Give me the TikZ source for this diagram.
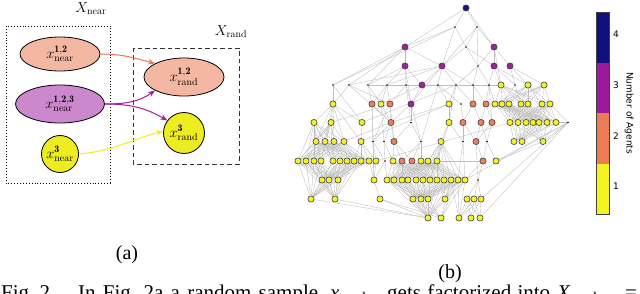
\documentclass[tikz,border=0pt]{standalone}
\usepackage{fontspec}
\newfontfamily\serifT{Liberation Serif}
\newfontfamily\sansD{DejaVu Sans}
\usetikzlibrary{shapes.geometric,arrows.meta,backgrounds}
\definecolor{gyellow}{HTML}{F2F224}
\definecolor{gorange}{HTML}{EE7F5E}
\definecolor{gmagenta}{HTML}{A0219E}
\definecolor{gblue}{HTML}{14148A}
\definecolor{cbblue}{HTML}{10107F}
\definecolor{cbmag}{HTML}{9B1A9B}
\definecolor{cborange}{HTML}{EF7B55}
\definecolor{cbyellow}{HTML}{F3F31F}
\definecolor{nearA}{HTML}{F4B8A2}
\definecolor{nearB}{HTML}{CC88CC}
\definecolor{nearC}{HTML}{ECEC20}
\definecolor{arrO}{HTML}{F07850}
\definecolor{arrP}{HTML}{A01EA0}
\definecolor{arrY}{HTML}{EEEE22}
\newcommand\gbip[4]{\foreach \ia in {#2}{\foreach \jb in {#4}{\draw[gedge] (r#1c\ia) -- (r#3c\jb);}}}
\begin{document}
\begin{tikzpicture}[x=1pt,y=-1pt,
  gnode/.style={circle,draw=black!72,line width=0.65pt,minimum size=6.2pt,inner sep=0pt},
  gY/.style={gnode,fill=gyellow},
  gO/.style={gnode,fill=gorange},
  gM/.style={gnode,fill=gmagenta},
  gB/.style={gnode,fill=gblue},
  gD/.style={circle,fill=black,minimum size=1.7pt,inner sep=0pt},
  gedge/.style={draw=black!26,line width=0.35pt},
  setnode/.style={draw=black,line width=0.8pt,inner sep=0pt,font=\fontsize{14.4}{16}\selectfont},
  setarrow/.style={line width=1pt,-{Stealth[length=7pt,width=5.5pt]}},
  serlab/.style={font=\serifT\fontsize{20}{22}\selectfont,inner sep=0pt},
  caplab/.style={font=\serifT\fontsize{21}{24}\selectfont,inner sep=0pt,anchor=base west},
  cblab/.style={font=\sansD\fontsize{9}{10}\selectfont,inner sep=0pt}
]
\useasboundingbox (0,0) rectangle (640,294);
\clip (0,0) rectangle (640,294);

% ---------- (a) ----------
\draw[dotted,line width=0.9pt] (6,26) rectangle (110,183);
\draw[dashed,dash pattern=on 4.5pt off 3pt,line width=0.9pt,black!80] (133,48) rectangle (239,164);
\node[font=\fontsize{14.4}{16}\selectfont] (lnear) at (91,9) {$X_{\mathrm{near}}$};
\node[font=\fontsize{14.4}{16}\selectfont] (lrand) at (231,32) {$X_{\mathrm{rand}}$};
\node[setnode,ellipse,fill=nearA,minimum width=80pt,minimum height=34pt] (near12) at (60,54) {$x^{\mathbf{1,2}}_{\mathrm{near}}$};
\node[setnode,ellipse,fill=nearB,minimum width=89pt,minimum height=38pt] (near123) at (60,104) {$x^{\mathbf{1,2,3}}_{\mathrm{near}}$};
\node[setnode,circle,fill=nearC,minimum size=37pt] (near3) at (60,154) {$x^{\mathbf{3}}_{\mathrm{near}}$};
\node[setnode,ellipse,fill=nearA,minimum width=80pt,minimum height=38pt] (rand12) at (184,77) {$x^{\mathbf{1,2}}_{\mathrm{rand}}$};
\node[setnode,circle,fill=nearC,minimum size=41pt] (rand3) at (184,133) {$x^{\mathbf{3}}_{\mathrm{rand}}$};
\draw[setarrow,arrO] (near12.east) to[out=0,in=165] (rand12.155);
\draw[setarrow,arrP] (near123.east) to[out=0,in=215] (rand12.205);
\draw[setarrow,arrP] (near123.east) to[out=0,in=150] (rand3.143);
\draw[setarrow,arrY] (near3.east) to[out=5,in=195] (rand3.175);
\node[serlab] (laba) at (127,255) {(a)};

% ---------- (b) graph nodes ----------
\node[gB] (r0c1) at (466,8) {};
\foreach \xx/\st [count=\i] in {455/gD,477/gD} \node[\st] (r1c\i) at (\xx,27) {};
\foreach \xx/\st [count=\i] in {405/gM,466/gD,494/gM} \node[\st] (r2c\i) at (\xx,47) {};
\foreach \xx/\st [count=\i] in {405/gM,442/gM,478/gD,494/gM,510/gM} \node[\st] (r3c\i) at (\xx,66) {};
\foreach \xx/\st [count=\i] in {333/gD,349/gD,368/gD,387/gD,406/gD,422/gM,438/gD,456/gD,473/gD,489/gD,501/gY,515/gD,528/gY,544/gY} \node[\st] (r4c\i) at (\xx,85) {};
\foreach \xx/\st [count=\i] in {333/gY,372/gO,381/gY,390/gO,411/gM,449/gY,461/gD,473/gO,486/gO,495/gY,502/gY,509/gY,521/gY,528/gY,542/gY,550/gY} \node[\st] (r5c\i) at (\xx,104) {};
\foreach \xx/\st [count=\i] in {314/gY,331/gY,362/gY,391/gO,411/gD,449/gY,463/gO,481/gO,492/gO,510/gY,518/gY,526/gY,533/gY,539/gY,547/gY,556/gY,568/gD} \node[\st] (r6c\i) at (\xx,122.5) {};
\foreach \xx/\st [count=\i] in {316/gY,325/gY,334/gY,344/gY,361/gY,373/gD,384/gD,394/gO,421/gD,441/gY,463/gD,476/gO,487/gD,514/gY,522/gY,543/gY} \node[\st] (r7c\i) at (\xx,141.5) {};
\foreach \xx/\st [count=\i] in {298/gY,306/gY,314/gY,321/gY,333/gY,340/gY,347/gY,354/gY,361/gY,369/gY,376/gY,385/gD,393/gY,402/gO,412/gO,421/gY,428/gY,437/gY,483/gO,496/gY} \node[\st] (r8c\i) at (\xx,161) {};
\foreach \xx/\st [count=\i] in {322/gY,329/gY,338/gY,374/gY,387/gY,394/gY,402/gY,408/gY,416/gY,423/gY,430/gY,437/gY,444/gY,451/gY,458/gY,465/gY,478/gD} \node[\st] (r9c\i) at (\xx,180) {};
\foreach \xx/\st [count=\i] in {311/gY,335/gY,380/gY,413/gY,421/gY,428/gY,445/gY,467/gY,474/gY,481/gY} \node[\st] (r10c\i) at (\xx,199) {};
\foreach \xx/\st [count=\i] in {428/gY,441/gY,459/gY,471/gY,480/gY} \node[\st] (r11c\i) at (\xx,218) {};

% ---------- (b) graph edges ----------
\begin{pgfonlayer}{background}
\foreach \a/\b in {r0c1/r1c1,r0c1/r1c2,r0c1/r2c3,r0c1/r2c1,
 r1c1/r2c1,r1c1/r2c2,r1c1/r3c2,r1c1/r4c1,
 r1c2/r2c2,r1c2/r2c3,r1c2/r3c3,r1c2/r3c2,
 r2c1/r3c1,r2c1/r4c1,r2c1/r4c2,r2c1/r4c3,r2c1/r3c2,
 r2c2/r3c2,r2c2/r3c3,r2c2/r3c4,
 r2c3/r3c4,r2c3/r3c5,r2c3/r3c3,r2c3/r4c11,
 r3c1/r4c3,r3c1/r4c4,r3c1/r4c5,r3c1/r5c5,r3c1/r4c6,
 r3c2/r4c6,r3c2/r4c7,r3c2/r4c8,r3c2/r4c4,r3c2/r5c5,r3c2/r4c9,r3c2/r4c2,
 r3c3/r4c8,r3c3/r4c9,r3c3/r4c10,
 r3c4/r4c10,r3c4/r4c11,r3c4/r4c12,r3c4/r4c13,
 r3c5/r4c12,r3c5/r4c13,r3c5/r4c14,
 r4c1/r5c1,r4c2/r5c1,r4c2/r5c4,r4c3/r5c2,r4c3/r5c3,r4c4/r5c2,r4c4/r5c3,r4c4/r5c4,r4c5/r5c4,r4c5/r5c5,r4c6/r5c5,r4c6/r5c3,
 r4c7/r5c6,r4c7/r5c7,r4c8/r5c6,r4c8/r5c8,r4c9/r5c8,r4c9/r5c9,r4c10/r5c9,r4c10/r5c10,r4c12/r5c13,r4c12/r5c11,
 r4c1/r6c3,r4c5/r6c5,r4c7/r7c9,r4c2/r6c4,r4c8/r6c6,r4c10/r6c9,r4c3/r4c11,
 r5c1/r6c1,r5c1/r6c2,r5c1/r6c3,r5c1/r7c5,r5c1/r7c1,r5c1/r7c2,r5c1/r7c3,r5c1/r7c4,
 r5c2/r6c4,r5c2/r7c6,r5c2/r9c4,r5c3/r6c4,r5c3/r7c7,r5c4/r6c4,r5c4/r7c8,r5c4/r7c6,
 r6c4/r7c6,r6c4/r7c7,r6c4/r7c8,
 r7c6/r8c11,r7c6/r8c12,r7c6/r9c4,r7c7/r8c12,r7c7/r8c13,r7c8/r8c13,r7c8/r8c14,r7c8/r8c15,
 r9c4/r10c3,r8c11/r9c4,r8c10/r9c4,r8c12/r9c5,r8c12/r9c4,
 r5c5/r6c5,r5c5/r6c4,r5c5/r7c9,r6c5/r7c9,r6c5/r7c8,r7c9/r8c15,r7c9/r8c16,r7c9/r8c14,
 r6c3/r7c5,r7c5/r8c8,r7c5/r8c9,r7c5/r8c10,r7c5/r8c11,
 r5c6/r6c6,r6c6/r7c10,r6c6/r7c11,r6c6/r8c18,r5c7/r6c7,r5c6/r6c4,
 r5c8/r6c7,r5c8/r6c8,r5c9/r6c8,r5c9/r6c9,r6c7/r7c11,r6c7/r7c12,r6c8/r7c12,r6c8/r7c13,r6c9/r7c13,r6c9/r7c12,
 r7c12/r8c19,r7c12/r9c17,r7c13/r8c19,r7c13/r8c20,r8c19/r9c17,r8c19/r9c16,r9c17/r10c8,r9c17/r10c9,r9c17/r10c10,
 r7c11/r9c16,r7c11/r9c15,r7c10/r8c17,r7c10/r8c18,r8c18/r8c19,
 r6c17/r6c16,r6c17/r7c16,r6c17/r5c16,r6c17/r10c10,r6c17/r9c16,r6c17/r8c20,r6c17/r11c5,r8c20/r7c16,
 r10c1/r11c1,r10c2/r11c1,r10c3/r11c1,r10c3/r11c2,
 r8c11/r6c10,r7c5/r5c6,r6c3/r4c8,r6c2/r5c4,r7c4/r6c4}
 \draw[gedge] (\a) -- (\b);
\gbip{4}{11,13,14}{5}{10,...,16}
\gbip{5}{10,...,16}{6}{10,...,16}
\gbip{6}{10,...,16}{7}{14,15,16}
\gbip{6}{1,2}{7}{1,...,4}
\gbip{7}{1,...,4}{8}{1,...,10}
\gbip{8}{1,...,10}{9}{1,2,3}
\gbip{9}{1,2,3}{10}{1,2}
\gbip{8}{1,...,9}{10}{1,2}
\gbip{6}{1,2}{8}{1,...,5}
\gbip{8}{13,...,18}{9}{5,...,12}
\gbip{8}{16,17,18}{9}{13,...,16}
\gbip{9}{5,...,16}{10}{4,5,6}
\gbip{9}{5,...,16}{11}{1}
\gbip{10}{4,5,6}{11}{1,2}
\gbip{7}{10}{9}{9,...,16}
\gbip{9}{13,...,16}{10}{7}
\gbip{10}{8,9,10}{11}{3,4,5}
\gbip{9}{14,15,16}{11}{2,3}
\end{pgfonlayer}

% ---------- colour bar ----------
\fill[cbblue] (596,12) rectangle (609,63);
\fill[cbmag] (596,63) rectangle (609,113);
\fill[cborange] (596,113) rectangle (609,164);
\fill[cbyellow] (596,164) rectangle (609,214);
\draw[black!75,line width=0.6pt] (596,12) rectangle (609,214);
\node[cblab,anchor=west] (t4) at (613,34) {4};
\node[cblab,anchor=west] (t3) at (613,85) {3};
\node[cblab,anchor=west] (t2) at (613,136) {2};
\node[cblab,anchor=west] (t1) at (613,186) {1};
\node[cblab,rotate=-90] (cbt) at (629,113) {Number of Agents};
\node[serlab] (labb) at (450,274) {(b)};

% ---------- caption (cut off by the lower edge) ----------
\node[caplab] (capA) at (1,299) {Fig.~2.};
\node[caplab] (capB) at (78,299) {\hbox to 240pt{In Fig.~2a a random sample}};
\node[caplab] (capC) at (330,299) {\textit{x}\textsubscript{rand}};
\node[caplab] (capD) at (387,299) {\hbox to 163pt{gets factorized into}};
\node[caplab] (capE) at (557,299) {\textit{X}\textsubscript{rand}};
\node[caplab] (capF) at (625,299) {=};
\end{tikzpicture}
\end{document}
